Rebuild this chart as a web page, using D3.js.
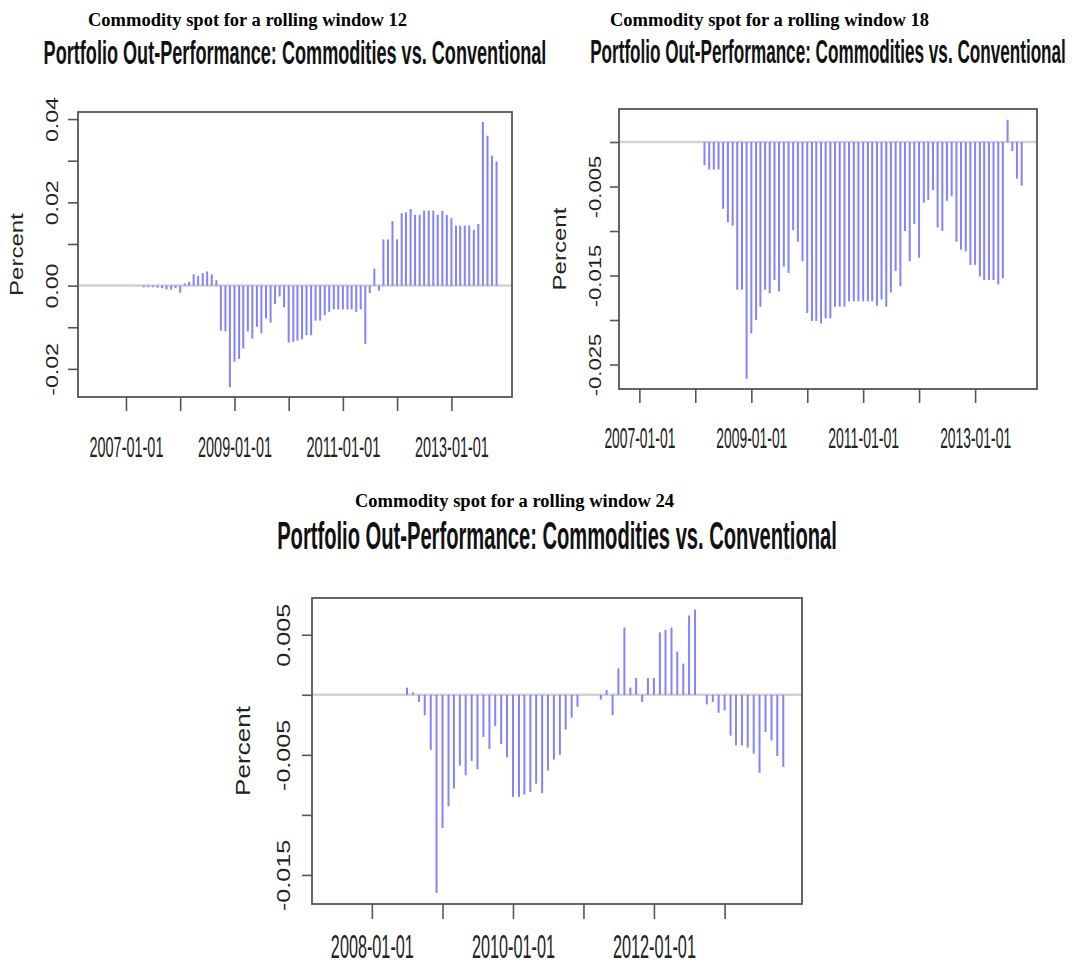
<!DOCTYPE html>
<html>
<head>
<meta charset="utf-8">
<script src="https://cdn.jsdelivr.net/npm/d3@7"></script>
<style>
  body { margin: 0; background: #fff; }
  svg { display: block; }
</style>
</head>
<body>
<div id="chart"></div>
<script>
// --- data (monthly out-performance, in percent units) ---
const heading = "Commodity spot for a rolling window";
const title = "Portfolio Out-Performance: Commodities vs. Conventional";
const yAxisLabel = "Percent";

// window 12: May 2007 .. Nov 2013
const start12 = "2007-05-01";
const values12 = [
  -0.0004, -0.0004, -0.0004, -0.0005, -0.0006, -0.0009, -0.001, -0.0006, -0.0017,
  0.0005, 0.0009, 0.0027, 0.0023, 0.003, 0.0034, 0.0027, 0.0013,
  -0.0108, -0.011, -0.0244, -0.0183, -0.0176, -0.0151, -0.011, -0.0127, -0.0099, -0.0115,
  -0.0079, -0.0089, -0.0044, -0.0026, -0.0052, -0.0137,
  -0.0135, -0.0132, -0.0129, -0.0119, -0.0119, -0.0084, -0.0084, -0.0071, -0.0063,
  -0.0057, -0.0057, -0.0057, -0.0057, -0.0057, -0.0063, -0.0057, -0.014, -0.0018,
  0.0041, -0.0012, 0.0111, 0.0111, 0.0155, 0.0111, 0.0174, 0.0176, 0.0184, 0.017,
  0.017, 0.018, 0.018, 0.018, 0.017, 0.018, 0.017, 0.0162, 0.0144, 0.0144, 0.0144,
  0.0144, 0.0134, 0.0148, 0.0393, 0.036, 0.0312, 0.0298
];

// window 18: Mar 2008 .. Nov 2013
const start18 = "2008-03-01";
const values18 = [
  -0.0026, -0.0031, -0.0031, -0.0031, -0.0075, -0.009, -0.0094, -0.0166, -0.0166, -0.0266,
  -0.0215, -0.02, -0.0185, -0.0166, -0.017, -0.0155, -0.0168, -0.014, -0.0147, -0.0099,
  -0.0112, -0.0134, -0.0192, -0.0201, -0.0201, -0.0204, -0.0198, -0.0198, -0.0185, -0.0185,
  -0.0185, -0.0179, -0.0179, -0.0179, -0.0179, -0.0179, -0.0179, -0.0184, -0.0177, -0.0185,
  -0.0169, -0.0145, -0.0162, -0.01, -0.0134, -0.0092, -0.013, -0.0068, -0.0065, -0.0054,
  -0.0096, -0.01, -0.0066, -0.0061, -0.0112, -0.0121, -0.0123, -0.0138, -0.0138, -0.0151,
  -0.0155, -0.0155, -0.0155, -0.016, -0.0153, 0.0025, -0.001, -0.0041, -0.0049
];

// window 24: Jul 2008 .. Nov 2013
const start24 = "2008-07-01";
const values24 = [
  0.0006, 0.0002, -0.0006, -0.0017, -0.0046, -0.0165, -0.0111, -0.0093, -0.0078, -0.0059,
  -0.0067, -0.0055, -0.0062, -0.0035, -0.0045, -0.0026, -0.0041, -0.0052, -0.0085, -0.0085,
  -0.0083, -0.0081, -0.0074, -0.0082, -0.0063, -0.0054, -0.005, -0.0029, -0.0019, -0.001,
  0, 0, 0,
  -0.0004, 0.0004, -0.0017, 0.0022, 0.0056, 0.0006, 0.0014, -0.0006, 0.0014, 0.0014,
  0.0052, 0.0054, 0.0056, 0.0036, 0.0026, 0.0066, 0.0071,
  0,
  -0.0008, -0.0006, -0.0015, -0.0013, -0.0034, -0.0042, -0.0042, -0.0044, -0.0049, -0.0065,
  -0.0031, -0.0038, -0.0051, -0.006
];

const xTicks12 = ["2007-01-01", "2008-01-01", "2009-01-01", "2010-01-01", "2011-01-01", "2012-01-01", "2013-01-01"];
const xLabels12 = ["2007-01-01", "2009-01-01", "2011-01-01", "2013-01-01"];
const xTicks24 = ["2008-01-01", "2009-01-01", "2010-01-01", "2011-01-01", "2012-01-01", "2013-01-01"];
const xLabels24 = ["2008-01-01", "2010-01-01", "2012-01-01"];

const yTicks12 = [-0.02, -0.01, 0, 0.01, 0.02, 0.03, 0.04];
const yLabels12 = [-0.02, 0, 0.02, 0.04];
const yTicks18 = [-0.025, -0.02, -0.015, -0.01, -0.005, 0];
const yLabels18 = [-0.025, -0.015, -0.005];
const yTicks24 = [-0.015, -0.01, -0.005, 0, 0.005];
const yLabels24 = [-0.015, -0.005, 0.005];

// axis extents of each panel
const xDomain12 = ["2006-02-12", "2014-02-13"];
const xDomain18 = ["2006-08-21", "2014-02-09"];
const xDomain24 = ["2007-02-25", "2014-02-06"];
const yDomain12 = [-0.02675, 0.0417];
const yDomain18 = [-0.02775, 0.00371];
const yDomain24 = [-0.01742, 0.00806];

// --- layout ---
const panels = [
  { win: 12, start: start12, values: values12, xDom: xDomain12, yDom: yDomain12,
    xTicks: xTicks12, xLabels: xLabels12, yTicks: yTicks12, yLabels: yLabels12, dec: 2,
    box: { l: 78, r: 512, t: 112, b: 397 }, tickX: 14, tickY: 10,
    head: { x: 88, y: 26, size: 18.5 }, ttl: { y: 64, cap: 24.3, len: 503 },
    xlab: { y: 457, cap: 21.5, len: 74 }, ylab: { x: 58, size: 17, k: 1.36 },
    pct: { x: 23, size: 18.5, k: 1.3 } },
  { win: 18, start: start18, values: values18, xDom: xDomain18, yDom: yDomain18,
    xTicks: xTicks12, xLabels: xLabels12, yTicks: yTicks18, yLabels: yLabels18, dec: 3,
    box: { l: 619, r: 1037, t: 109, b: 389 }, tickX: 14, tickY: 9,
    head: { x: 610, y: 26, size: 18.5 }, ttl: { y: 63, cap: 23.6, len: 476 },
    xlab: { y: 448, cap: 20.8, len: 71 }, ylab: { x: 601, size: 17, k: 1.3 },
    pct: { x: 566, size: 18.5, k: 1.3 } },
  { win: 24, start: start24, values: values24, xDom: xDomain24, yDom: yDomain24,
    xTicks: xTicks24, xLabels: xLabels24, yTicks: yTicks24, yLabels: yLabels24, dec: 3,
    box: { l: 312, r: 802, t: 598, b: 904 }, tickX: 15, tickY: 10,
    head: { x: 355, y: 507, size: 18.5 }, ttl: { y: 549, cap: 27.2, len: 560 },
    xlab: { y: 958, cap: 23.6, len: 83 }, ylab: { x: 290, size: 18.5, k: 1.36 },
    pct: { x: 250, size: 19.5, k: 1.34 } }
];

const sans = "'Liberation Sans', Arial, sans-serif";
const serif = "'Liberation Serif', 'Times New Roman', serif";
const parse = d3.utcParse("%Y-%m-%d");
const fmtDate = d3.utcFormat("%Y-%m-%d");

// the source picture is squeezed sideways: size the font to the wanted width,
// then stretch it vertically to the wanted cap height
function fit(text, len, cap) {
  text.attr("font-size", 20);
  const w = text.node().getComputedTextLength();
  const f = 20 * len / w;
  text.attr("font-size", f);
  return cap / (0.716 * f);
}

const svg = d3.select("#chart").append("svg")
  .attr("width", 1079).attr("height", 965)
  .style("background", "#fff");

panels.forEach(p => {
  const x = d3.scaleUtc().domain(p.xDom.map(parse)).range([p.box.l, p.box.r]);
  const y = d3.scaleLinear().domain(p.yDom).range([p.box.b, p.box.t]);
  const g = svg.append("g");
  const t0 = parse(p.start);

  // caption above the picture
  g.append("text").attr("x", p.head.x).attr("y", p.head.y)
    .attr("font-family", serif).attr("font-weight", "bold").attr("font-size", p.head.size)
    .attr("fill", "#000").text(`${heading} ${p.win}`);

  // chart title
  const tt = g.append("text").attr("text-anchor", "middle")
    .attr("font-family", sans).attr("font-weight", "bold").attr("fill", "#111")
    .text(title);
  const sy = fit(tt, p.ttl.len, p.ttl.cap);
  tt.attr("transform", `translate(${(p.box.l + p.box.r) / 2},${p.ttl.y}) scale(1,${sy})`);

  // zero line
  g.append("line").attr("x1", p.box.l).attr("x2", p.box.r)
    .attr("y1", y(0)).attr("y2", y(0))
    .attr("stroke", "#d2d2d2").attr("stroke-width", 2.5);

  // bars
  g.selectAll(".bar").data(p.values).join("line").attr("class", "bar")
    .attr("x1", (d, i) => x(d3.utcMonth.offset(t0, i)))
    .attr("x2", (d, i) => x(d3.utcMonth.offset(t0, i)))
    .attr("y1", y(0)).attr("y2", d => y(d))
    .attr("stroke", "#8383ff").attr("stroke-width", 2);

  // frame
  g.append("rect").attr("x", p.box.l).attr("y", p.box.t)
    .attr("width", p.box.r - p.box.l).attr("height", p.box.b - p.box.t)
    .attr("fill", "none").attr("stroke", "#555").attr("stroke-width", 1.8);

  // y axis
  const ya = g.append("g").attr("transform", `translate(${p.box.l},0)`)
    .call(d3.axisLeft(y).tickValues(p.yTicks).tickSize(p.tickY)
      .tickFormat(d => p.yLabels.some(v => Math.abs(v - d) < 1e-9) ? d.toFixed(p.dec) : ""));
  ya.select(".domain").remove();
  ya.selectAll(".tick line").attr("stroke", "#555").attr("stroke-width", 1.6);
  ya.selectAll(".tick text").filter(function () { return !this.textContent; }).remove();
  ya.selectAll(".tick text")
    .attr("x", null).attr("dy", null).attr("text-anchor", "middle")
    .attr("fill", "#222").attr("font-family", sans).attr("font-size", p.ylab.size)
    .attr("transform", `translate(${p.ylab.x - p.box.l},0) rotate(-90) scale(${p.ylab.k},1)`);

  // x axis
  const xa = g.append("g").attr("transform", `translate(0,${p.box.b})`)
    .call(d3.axisBottom(x).tickValues(p.xTicks.map(parse)).tickSize(p.tickX)
      .tickFormat(d => p.xLabels.includes(fmtDate(d)) ? fmtDate(d) : ""));
  xa.select(".domain").remove();
  xa.selectAll(".tick line").attr("stroke", "#555").attr("stroke-width", 1.6);
  xa.selectAll(".tick text").filter(function () { return !this.textContent; }).remove();
  xa.selectAll(".tick text").each(function () {
    const t = d3.select(this)
      .attr("fill", "#222").attr("font-family", sans)
      .attr("y", null).attr("dy", null);
    const k = fit(t, p.xlab.len, p.xlab.cap);
    t.attr("transform", `translate(0,${p.xlab.y - p.box.b}) scale(1,${k})`);
  });

  // y axis title
  g.append("text")
    .attr("transform", `translate(${p.pct.x},${(p.box.t + p.box.b) / 2}) rotate(-90) scale(${p.pct.k},1)`)
    .attr("text-anchor", "middle").attr("font-family", sans).attr("font-size", p.pct.size)
    .attr("fill", "#222").text(yAxisLabel);
});
</script>
</body>
</html>
